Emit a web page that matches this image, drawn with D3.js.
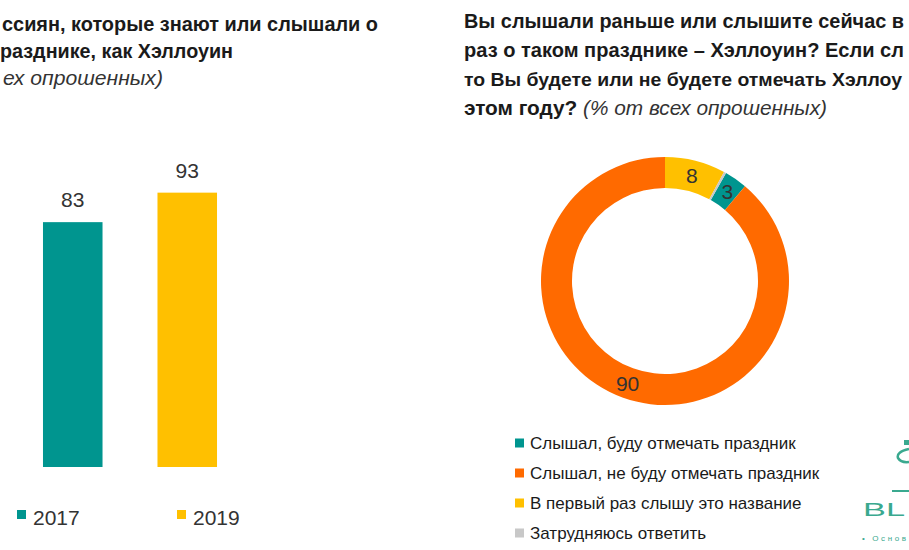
<!DOCTYPE html>
<html><head><meta charset="utf-8">
<script src="https://cdn.jsdelivr.net/npm/d3@7/dist/d3.min.js"></script>
<style>
html,body{margin:0;padding:0;background:#fff;overflow:hidden;}
svg{display:block;font-family:"Liberation Sans",Arial,sans-serif;}
</style></head>
<body>
<svg id="chart" width="909" height="550"></svg>
<script>
// ---- data ----
const barYears = ["2017", "2019"];
const barValues = [83, 93];
const barColors = ["#00958f", "#ffc000"];

const donutCategories = [
  "Слышал, буду отмечать праздник",
  "Слышал, не буду отмечать праздник",
  "В первый раз слышу это название",
  "Затрудняюсь ответить"
];
const donutValues = [3, 90, 8, 0.3];
const donutLabels = ["3", "90", "8", ""];
const donutColors = ["#00958f", "#ff6a00", "#ffc000", "#c8c8c8"];

// title fragments as visible in the (cropped) reference
const leftTitle = ["ссиян, которые знают или слышали о", "разднике, как Хэллоуин"];
const leftSubtitle = "ех опрошенных)";
const rightTitle = [
  "Вы слышали раньше или слышите сейчас в",
  "раз о таком празднике – Хэллоуин? Если сл",
  "то Вы будете или не будете отмечать Хэллоу",
  "этом году?"
];
const rightSubtitle = " (% от всех опрошенных)";

// ---- drawing ----
const svg = d3.select("#chart");
const textColor = "#1a1a1a";

// Left title
const lt = svg.append("g").attr("font-size", 20).attr("font-weight", "bold").attr("fill", textColor);
const ltSpans = [[2, 376], [0, 233]];
leftTitle.forEach((t, i) => {
  lt.append("text").attr("x", ltSpans[i][0]).attr("y", 31 + i * 27)
    .attr("textLength", ltSpans[i][1]).attr("lengthAdjust", "spacingAndGlyphs").text(t);
});
svg.append("text").attr("x", 3).attr("y", 85).attr("textLength", 160).attr("lengthAdjust", "spacingAndGlyphs")
  .attr("font-size", 20).attr("font-style", "italic").attr("fill", "#333").text(leftSubtitle);

// Right title
const rt = svg.append("g").attr("fill", textColor);
const rtLens = [440, 440, 438, 363];
const rtSizes = [20, 20, 19, 20];
rightTitle.forEach((t, i) => {
  const tx = rt.append("text").attr("x", 464).attr("y", 28 + i * 29).attr("font-size", rtSizes[i])
    .attr("textLength", rtLens[i]).attr("lengthAdjust", "spacingAndGlyphs");
  tx.append("tspan").attr("font-weight", "bold").text(t);
  if (i === rightTitle.length - 1) {
    tx.append("tspan").attr("font-style", "italic").attr("fill", "#333").text(rightSubtitle);
  }
});

// Bar chart
const x = d3.scaleBand().domain(barYears).range([15.5, 244.5]).paddingInner(0.48).paddingOuter(0.24);
const y = d3.scaleLinear().domain([0, 100]).range([467, 172]);
const bars = svg.append("g");
bars.selectAll("rect").data(barYears).join("rect")
  .attr("x", d => x(d)).attr("width", x.bandwidth())
  .attr("y", (d, i) => y(barValues[i])).attr("height", (d, i) => y(0) - y(barValues[i]))
  .attr("fill", (d, i) => barColors[i]);
bars.selectAll("text").data(barYears).join("text")
  .attr("x", d => x(d) + x.bandwidth() / 2).attr("y", (d, i) => y(barValues[i]) - 15)
  .attr("text-anchor", "middle").attr("font-size", 21).attr("fill", "#333")
  .text((d, i) => barValues[i]);

// Bar legend
const bl = svg.append("g");
const blX = [17, 177];
barYears.forEach((yr, i) => {
  bl.append("rect").attr("x", blX[i]).attr("y", 510).attr("width", 9).attr("height", 9).attr("fill", barColors[i]);
  bl.append("text").attr("x", blX[i] + 16).attr("y", 525).attr("font-size", 21).attr("fill", "#333").text(yr);
});

// Donut
const cx = 665, cy = 281, rOuter = 124, rInner = 93;
const total = d3.sum(donutValues);
const start = 2 * Math.PI * (1 - (donutValues[0] + donutValues[1]) / total);
const pie = d3.pie().sort(null).value(d => d).startAngle(start).endAngle(start + 2 * Math.PI);
const arcs = pie(donutValues);
const arc = d3.arc().innerRadius(rInner).outerRadius(rOuter);
const labelArc = d3.arc().innerRadius(108).outerRadius(110);
const dg = svg.append("g").attr("transform", `translate(${cx},${cy})`);
dg.selectAll("path").data(arcs).join("path").attr("d", arc).attr("fill", (d, i) => donutColors[i]);
dg.selectAll("text").data(arcs).join("text")
  .attr("transform", d => `translate(${labelArc.centroid(d)})`)
  .attr("text-anchor", "middle").attr("dy", "0.35em")
  .attr("font-size", 21).attr("fill", "#333")
  .text((d, i) => donutLabels[i]);

// Donut legend
const dl = svg.append("g");
donutCategories.forEach((c, i) => {
  const yy = 443 + i * 30;
  dl.append("rect").attr("x", 515).attr("y", yy - 4.5).attr("width", 9).attr("height", 9).attr("fill", donutColors[i]);
  dl.append("text").attr("x", 530).attr("y", yy).attr("dy", "0.35em").attr("font-size", 17).attr("fill", textColor).text(c);
});

// Logo fragment (bottom-right)
const logoColor = "#3aa98f";
const lg = svg.append("g");
lg.append("path").attr("d", "M909,449 Q896,452 898,458 Q901,463 909,462").attr("fill", "none").attr("stroke", logoColor).attr("stroke-width", 2.5);
lg.append("rect").attr("x", 904).attr("y", 440).attr("width", 5).attr("height", 5).attr("fill", logoColor);
lg.append("line").attr("x1", 892).attr("x2", 909).attr("y1", 491).attr("y2", 491).attr("stroke", logoColor).attr("stroke-width", 2);
lg.append("text").attr("x", 863).attr("y", 516).attr("font-size", 19).attr("textLength", 42).attr("lengthAdjust", "spacingAndGlyphs").attr("fill", logoColor).text("BL");
lg.append("text").attr("x", 862).attr("y", 541).attr("font-size", 8).attr("textLength", 44).attr("lengthAdjust", "spacing").attr("fill", logoColor).text("• Основ");
</script>
</body></html>
